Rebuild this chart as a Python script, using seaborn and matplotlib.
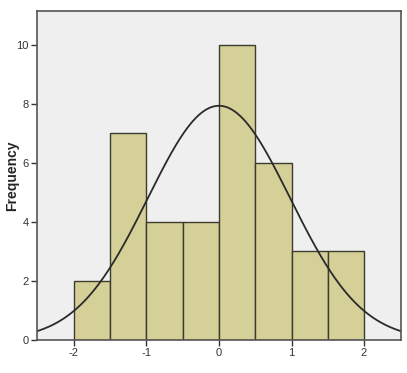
import numpy as np
import pandas as pd
import matplotlib
matplotlib.use("Agg")
import matplotlib.pyplot as plt
import seaborn as sns

bin_edges = [-2.0, -1.5, -1.0, -0.5, 0.0, 0.5, 1.0, 1.5, 2.0]
counts = [2, 7, 4, 4, 10, 6, 3, 3]
curve_mean = 0.0
curve_sd = 0.98
x_ticks = [-2, -1, 0, 1, 2]
y_ticks = [0, 2, 4, 6, 8, 10]

centers = [(a + b) / 2 for a, b in zip(bin_edges[:-1], bin_edges[1:])]
df = pd.DataFrame({"value": centers, "count": counts})

sns.set_style("white")
plt.rcParams["font.family"] = ["Liberation Sans", "DejaVu Sans"]
plt.rcParams["axes.unicode_minus"] = False

fig = plt.figure(figsize=(4.07, 3.73), dpi=100)
ax = fig.add_axes([37/407, 1 - 340/373, (401-37)/407, (340-11)/373])
ax.set_facecolor("#efefef")

sns.histplot(data=df, x="value", weights="count", bins=bin_edges, ax=ax,
             color="#d5cf98", edgecolor="#3b3b2e", linewidth=1.0, alpha=1.0)

n = sum(counts)
width = bin_edges[1] - bin_edges[0]
xs = np.linspace(-2.6, 2.6, 400)
ys = n * width * np.exp(-0.5 * ((xs - curve_mean) / curve_sd) ** 2) / (curve_sd * np.sqrt(2 * np.pi))
sns.lineplot(x=xs, y=ys, ax=ax, color="#2a2a2a", linewidth=1.3)

ax.set_xlim(-2.51, 2.51)
ax.set_ylim(0, 11.15)
ax.set_xticks(x_ticks)
ax.set_yticks(y_ticks)
ax.set_xlabel("")
ax.set_ylabel("Frequency", fontsize=10, fontweight="bold")
ax.yaxis.set_label_coords(-0.05, 0.5)
ax.tick_params(axis="both", direction="out", length=4, width=1, colors="#333333",
               labelsize=8, pad=2, bottom=True, left=True)
for s in ax.spines.values():
    s.set_color("#555555")
    s.set_linewidth(1.2)

fig.savefig("out.png", dpi=100)
